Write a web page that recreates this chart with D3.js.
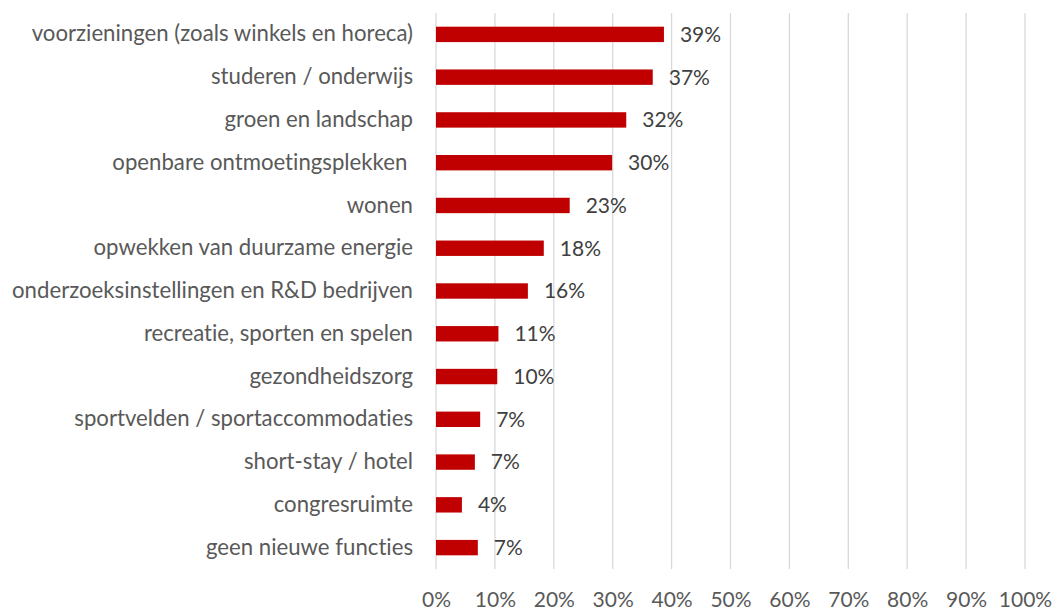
<!DOCTYPE html>
<html>
<head>
<meta charset="utf-8">
<script src="https://cdn.jsdelivr.net/npm/d3@7"></script>
<style>
  body { margin: 0; background: #fff; }
  text { font-family: Lato, "Open Sans", sans-serif; font-variant-ligatures: none; }
</style>
</head>
<body>
<svg id="chart" width="1061" height="610"></svg>
<script>
var categories = [
  "voorzieningen (zoals winkels en horeca)",
  "studeren / onderwijs",
  "groen en landschap",
  "openbare ontmoetingsplekken ",
  "wonen",
  "opwekken van duurzame energie",
  "onderzoeksinstellingen en R&D bedrijven",
  "recreatie, sporten en spelen",
  "gezondheidszorg",
  "sportvelden / sportaccommodaties",
  "short-stay / hotel",
  "congresruimte",
  "geen nieuwe functies"
];
var values = [38.7, 36.8, 32.3, 29.9, 22.7, 18.3, 15.6, 10.6, 10.4, 7.5, 6.6, 4.4, 7.1];
var labels = ["39%", "37%", "32%", "30%", "23%", "18%", "16%", "11%", "10%", "7%", "7%", "4%", "7%"];
var ticks = [0, 10, 20, 30, 40, 50, 60, 70, 80, 90, 100];

var svg = d3.select("#chart");
var margin = { top: 13, left: 436, right: 36, bottom: 41 };
var width = 1061 - margin.left - margin.right;
var height = 610 - margin.top - margin.bottom;

var g = svg.append("g").attr("transform", "translate(" + margin.left + "," + margin.top + ")");

var x = d3.scaleLinear().domain([0, 100]).range([0, width]);
var y = d3.scaleBand().domain(categories).range([0, height]).paddingInner(0.64).paddingOuter(0.32);

// gridlines
g.selectAll("line.grid")
  .data(ticks)
  .enter()
  .append("line")
    .attr("class", "grid")
    .attr("x1", function (d) { return x(d); })
    .attr("x2", function (d) { return x(d); })
    .attr("y1", 0)
    .attr("y2", height)
    .attr("stroke", "#d9d9d9")
    .attr("stroke-width", 1.3);

// x axis labels
var xAxis = d3.axisBottom(x).tickValues(ticks).tickSize(0).tickPadding(0)
  .tickFormat(function (d) { return d + "%"; });
var ax = g.append("g").attr("transform", "translate(0," + height + ")").call(xAxis);
ax.select(".domain").remove();
ax.selectAll("text")
  .attr("dy", null)
  .attr("y", 38)
  .attr("fill", "#595959")
  .style("font-size", "21px");

// category labels
var yAxis = d3.axisLeft(y).tickSize(0).tickPadding(23);
var ay = g.append("g").call(yAxis);
ay.select(".domain").remove();
ay.selectAll("text")
  .attr("fill", "#595959")
  .style("font-size", "22.2px")
  .style("white-space", "pre");

// bars
g.selectAll("rect.bar")
  .data(values)
  .enter()
  .append("rect")
    .attr("class", "bar")
    .attr("x", x(0))
    .attr("y", function (d, i) { return y(categories[i]); })
    .attr("width", function (d) { return x(d) - x(0); })
    .attr("height", y.bandwidth())
    .attr("fill", "#c00000");

// value labels
g.selectAll("text.val")
  .data(values)
  .enter()
  .append("text")
    .attr("class", "val")
    .attr("x", function (d) { return x(d) + 16; })
    .attr("y", function (d, i) { return y(categories[i]) + y.bandwidth() / 2; })
    .attr("dy", "0.35em")
    .attr("fill", "#404040")
    .style("font-size", "21px")
    .text(function (d, i) { return labels[i]; });
</script>
</body>
</html>
